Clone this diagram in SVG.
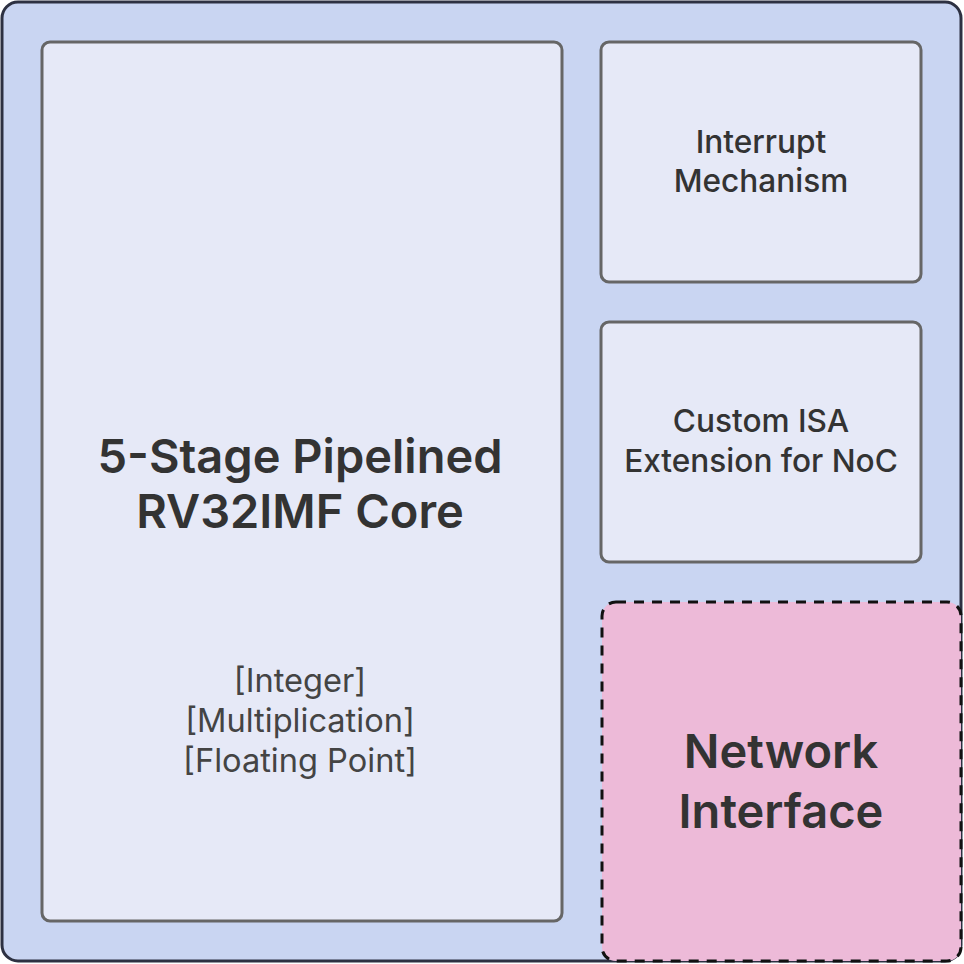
<svg xmlns="http://www.w3.org/2000/svg" width="964" height="964" viewBox="0 0 964 964">
<style>
.box{fill:#e6e9f7;stroke:#666;stroke-width:3}
.t{font-family:Inter,"Noto Sans",sans-serif;fill:#333;text-anchor:middle;dominant-baseline:central}
.big{font-size:47px;font-weight:600}
.mid{font-size:31.6px;font-weight:500}
.sm{font-size:32.6px;font-weight:400;fill:#444}
</style>
<g id="outer"><rect x="2" y="2" width="959" height="959" rx="16" fill="#c9d5f2" stroke="#2d3142" stroke-width="3"/></g>
<g id="core">
<rect class="box" x="42" y="42" width="520" height="879" rx="8"/>
<text class="t big" x="300" y="455">5-Stage Pipelined</text>
<text class="t big" x="300" y="510">RV32IMF Core</text>
<text class="t sm" x="300" y="680">[Integer]</text>
<text class="t sm" x="300" y="720">[Multiplication]</text>
<text class="t sm" x="300" y="760">[Floating Point]</text>
</g>
<g id="interrupt">
<rect class="box" x="601" y="42" width="320" height="240" rx="8"/>
<text class="t mid" x="761" y="141">Interrupt</text>
<text class="t mid" x="761" y="180">Mechanism</text>
</g>
<g id="isa">
<rect class="box" x="601" y="322" width="320" height="240" rx="8"/>
<text class="t mid" x="761" y="420">Custom ISA</text>
<text class="t mid" x="761" y="460">Extension for NoC</text>
</g>
<g id="ni">
<rect x="602" y="602" width="359" height="359" rx="14" fill="#edbad8" stroke="#111" stroke-width="3" stroke-dasharray="10 8"/>
<text class="t big" x="781" y="750">Network</text>
<text class="t big" x="781" y="810">Interface</text>
</g>
<g id="connectors"/>
</svg>
